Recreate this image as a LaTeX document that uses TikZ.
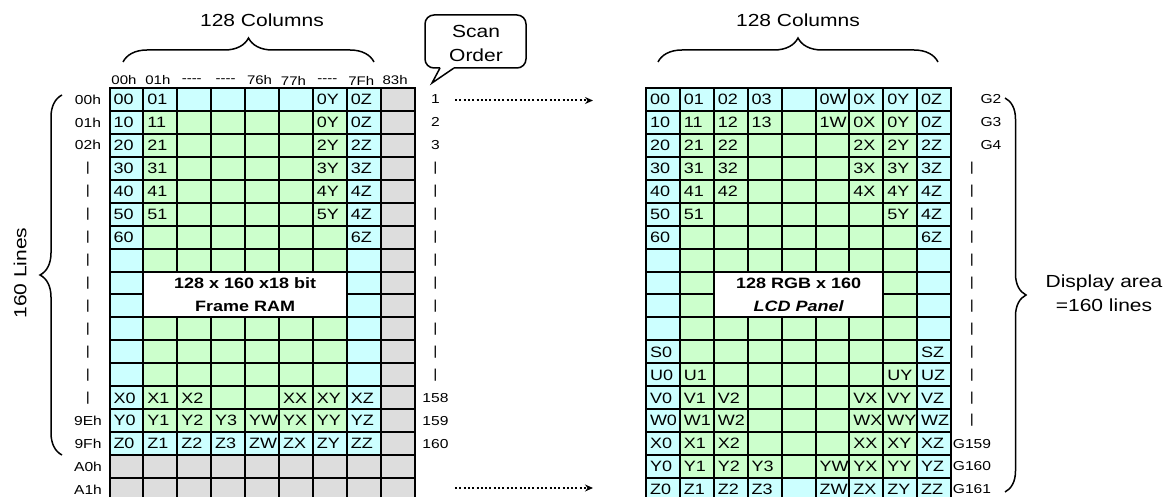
\documentclass[tikz,border=0pt]{standalone}
\usepackage{fontspec}
\setmainfont{Liberation Sans}[FakeStretch=1.2]
\usetikzlibrary{decorations.pathreplacing,arrows.meta}
\definecolor{cellcyan}{RGB}{204,255,255}
\definecolor{cellgreen}{RGB}{204,255,204}
\definecolor{cellgray}{RGB}{221,221,221}
\newcommand\myfs[2]{\fontsize{#1}{#2}\selectfont}
\newcommand\dsh{-{}-{}-{}-}
\begin{document}
\begin{tikzpicture}[x=1pt,y=-1pt,
  cell/.style={draw=black, line width=2pt, minimum width=33.9pt, minimum height=22.94pt,
    inner xsep=4pt, inner ysep=0pt, text width=25.9pt, align=left,
    text height=10.7pt, text depth=0pt, font=\myfs{15}{18}},
  lbl/.style={inner sep=0pt, font=\myfs{13}{15}},
  hdr/.style={inner sep=0pt, font=\myfs{12.5}{15}},
  title/.style={inner sep=0pt, font=\myfs{17.5}{23.5}, align=center},
  bigbox/.style={draw=black, line width=2pt, fill=white, inner sep=0pt, align=center,
    minimum height=45.88pt, font=\myfs{15}{22.94}\bfseries},
  bracestyle/.style={decorate, line width=1.5pt},
  scanarrow/.style={line width=2pt, dash pattern=on 2pt off 2.3pt, -{Stealth[length=8pt,width=7pt]}},
  bubble/.style={line width=1.5pt}
]
\useasboundingbox (0,0) rectangle (1168,497);

% ---------------- left grid (frame RAM) ----------------
\foreach \rowdata [count=\r] in {
 {00,01,{},{},{},{},0Y,0Z,{}},
 {10,11,{},{},{},{},0Y,0Z,{}},
 {20,21,{},{},{},{},2Y,2Z,{}},
 {30,31,{},{},{},{},3Y,3Z,{}},
 {40,41,{},{},{},{},4Y,4Z,{}},
 {50,51,{},{},{},{},5Y,4Z,{}},
 {60,{},{},{},{},{},{},6Z,{}},
 {{},{},{},{},{},{},{},{},{}},
 {{},{},{},{},{},{},{},{},{}},
 {{},{},{},{},{},{},{},{},{}},
 {{},{},{},{},{},{},{},{},{}},
 {{},{},{},{},{},{},{},{},{}},
 {{},{},{},{},{},{},{},{},{}},
 {X0,X1,X2,{},{},XX,XY,XZ,{}},
 {Y0,Y1,Y2,Y3,YW,YX,YY,YZ,{}},
 {Z0,Z1,Z2,Z3,ZW,ZX,ZY,ZZ,{}},
 {{},{},{},{},{},{},{},{},{}},
 {{},{},{},{},{},{},{},{},{}}}{
  \foreach \t [count=\c] in \rowdata {
    \def\fc{cellgreen}%
    \ifnum\r=1 \def\fc{cellcyan}\fi
    \ifnum\r=16 \def\fc{cellcyan}\fi
    \ifnum\c=1 \def\fc{cellcyan}\fi
    \ifnum\c=8 \def\fc{cellcyan}\fi
    \ifnum\r>16 \def\fc{cellgray}\fi
    \ifnum\c=9 \def\fc{cellgray}\fi
    \node[cell, fill=\fc] (L-\r-\c) at ({109.5+(\c-0.5)*33.9},{88+(\r-0.5)*22.94}) {\t};
  }
}
\node[bigbox, minimum width=203.4pt] (ram) at ({109.5+4*33.9},{88+9*22.94}) {128 x 160 x18 bit\\Frame RAM};

% column headers
\foreach \t [count=\c] in {00h,01h,\dsh,\dsh,76h,77h,\dsh,7Fh,83h}
  \node[hdr] (H-\c) at ({109.5+(\c-0.5)*33.9-2.5},80.5) {\t};
% row labels
\foreach \t [count=\r] in {00h,01h,02h,|,|,|,|,|,|,|,|,|,|,|,9Eh,9Fh,A0h,A1h}
  \node[lbl] (RL-\r) at (88,{88+(\r-0.5)*22.94}) {\t};
% scan order numbers
\foreach \t [count=\r] in {1,2,3,|,|,|,|,|,|,|,|,|,|,158,159,160}
  \node[lbl] (S-\r) at (435.5,{88+(\r-0.5)*22.94}) {\t};

% ---------------- right grid (LCD panel) ----------------
\foreach \rowdata [count=\r] in {
 {00,01,02,03,{},0W,0X,0Y,0Z},
 {10,11,12,13,{},1W,0X,0Y,0Z},
 {20,21,22,{},{},{},2X,2Y,2Z},
 {30,31,32,{},{},{},3X,3Y,3Z},
 {40,41,42,{},{},{},4X,4Y,4Z},
 {50,51,{},{},{},{},{},5Y,4Z},
 {60,{},{},{},{},{},{},{},6Z},
 {{},{},{},{},{},{},{},{},{}},
 {{},{},{},{},{},{},{},{},{}},
 {{},{},{},{},{},{},{},{},{}},
 {{},{},{},{},{},{},{},{},{}},
 {S0,{},{},{},{},{},{},{},SZ},
 {U0,U1,{},{},{},{},{},UY,UZ},
 {V0,V1,V2,{},{},{},VX,VY,VZ},
 {W0,W1,W2,{},{},{},WX,WY,WZ},
 {X0,X1,X2,{},{},{},XX,XY,XZ},
 {Y0,Y1,Y2,Y3,{},YW,YX,YY,YZ},
 {Z0,Z1,Z2,Z3,{},ZW,ZX,ZY,ZZ}}{
  \foreach \t [count=\c] in \rowdata {
    \def\fc{cellgreen}%
    \ifnum\r=1 \def\fc{cellcyan}\fi
    \ifnum\r=18 \def\fc{cellcyan}\fi
    \ifnum\c=1 \def\fc{cellcyan}\fi
    \ifnum\c=9 \def\fc{cellcyan}\fi
    \node[cell, fill=\fc] (R-\r-\c) at ({646+(\c-0.5)*33.9},{88+(\r-0.5)*22.94}) {\t};
  }
}
\node[bigbox, minimum width=169.5pt] (lcd) at ({646+4.5*33.9},{88+9*22.94}) {128 RGB x 160\\\itshape LCD Panel};

% gate labels
\foreach \t [count=\r] in {G2,G3,G4}
  \node[lbl] (G-\r) at (991,{88+(\r-0.5)*22.94}) {\t};
\foreach \r in {4,...,15}
  \node[lbl] (G-\r) at (972,{88+(\r-0.5)*22.94}) {|};
\foreach \t [count=\i] in {G159,G160,G161}{
  \pgfmathtruncatemacro\r{\i+15}
  \node[lbl] (G-\r) at (972,{88+(\r-0.5)*22.94}) {\t};
}

% ---------------- braces and titles ----------------
\draw[bracestyle, decoration={brace, amplitude=24pt}] (123,62) -- (374,62);
\node[title] (colsL) at (262,20.5) {128 Columns};
\draw[bracestyle, decoration={brace, amplitude=24pt}] (658,62) -- (938,62);
\node[title] (colsR) at (798,20.5) {128 Columns};
\draw[bracestyle, decoration={brace, amplitude=22pt}] (62,455) -- (62,95);
\node[title, rotate=90] (lines) at (20,273) {160 Lines};
\draw[bracestyle, decoration={brace, amplitude=21pt}] (1005,98) -- (1005,492);
\node[title] (disp) at (1104,293) {Display area\\=160 lines};

% ---------------- scan order bubble ----------------
\draw[bubble, rounded corners=9pt] (440,68) -- (425,68) -- (425,15) -- (526,15) -- (526,68) -- (454,68);
\draw[bubble, line join=miter] (454,68) -- (432,83) -- (440,68);
\node[title] (scan) at (476,43.5) {Scan\\Order};

% ---------------- scan arrows ----------------
\coordinate (arrA-s) at (455,100.5);
\coordinate (arrA-e) at (593,100.5);
\coordinate (arrB-s) at (455,488);
\coordinate (arrB-e) at (593,488);
\draw[scanarrow] (arrA-s) -- (arrA-e);
\draw[scanarrow] (arrB-s) -- (arrB-e);
\end{tikzpicture}
\end{document}
